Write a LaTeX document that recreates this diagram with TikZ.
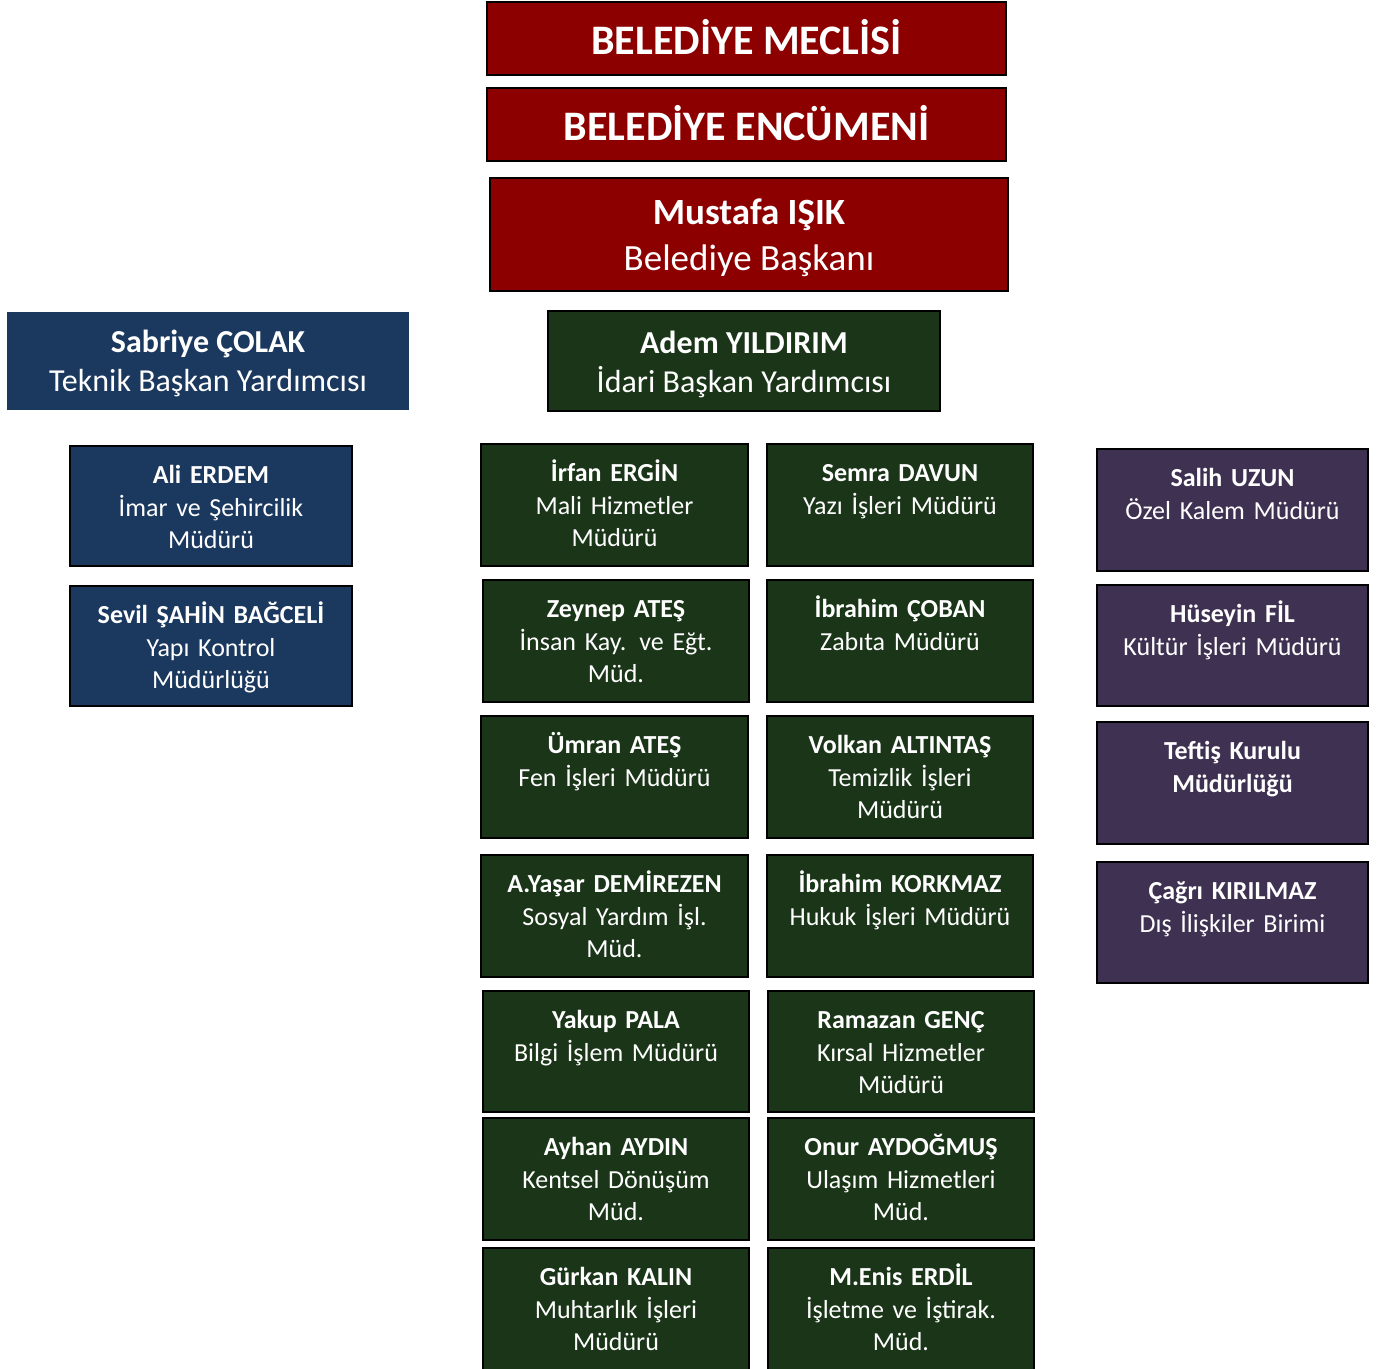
\documentclass[tikz,border=0pt]{standalone}
\usepackage{fontspec}
\setmainfont{Carlito}
\definecolor{cred}{RGB}{140,0,0}
\definecolor{cblue}{RGB}{27,56,94}
\definecolor{cgreen}{RGB}{26,53,24}
\definecolor{cpurple}{RGB}{63,49,82}
\tikzset{
  boxbase/.style={rectangle, inner sep=0pt, outer sep=0pt},
  bordered/.style={boxbase, draw=black, line width=2pt},
  redbox/.style={bordered, fill=cred},
  bluebox/.style={bordered, fill=cblue},
  blueplain/.style={boxbase, fill=cblue},
  greenbox/.style={bordered, fill=cgreen},
  purplebox/.style={bordered, fill=cpurple},
  smalltext/.style={text=white, inner sep=0pt, text width=270pt, align=center, font=\fontsize{26}{32.5}\selectfont},
  bigtext/.style={text=white, inner sep=0pt, align=center},
}
\newcommand\orgbox[7]{%
  \node[#2, anchor=north west, minimum width={#5-#3}, minimum height={#6-#4}] (#1) at (#3,#4) {};
  \node[smalltext, anchor=base] (#1-t) at ([yshift=-37.5pt]#1.north) {#7};
}
\begin{document}
\begin{tikzpicture}[x=1pt, y=-1pt]
\clip (0,0) rectangle (1378,1368);
\fill[white] (0,0) rectangle (1378,1368);
% top red boxes
\node[redbox, anchor=north west, minimum width=519, minimum height=73] (meclis) at (487,2) {};
\node[bigtext, font=\fontsize{42}{50}\selectfont\bfseries] (meclis-t) at ([yshift=1pt]meclis.center) {BELEDİYE MECLİSİ};
\node[redbox, anchor=north west, minimum width=519, minimum height=73] (encumen) at (487,88) {};
\node[bigtext, font=\fontsize{42}{50}\selectfont\bfseries] (encumen-t) at ([yshift=1pt]encumen.center) {BELEDİYE ENCÜMENİ};
\node[redbox, anchor=north west, minimum width=518, minimum height=113] (baskan) at (490,178) {};
\node[bigtext, font=\fontsize{37}{46}\selectfont] (baskan-t) at ([yshift=-3pt]baskan.center) {\textbf{Mustafa IŞIK}\\Belediye Başkanı};
% deputies
\node[blueplain, anchor=north west, minimum width=402, minimum height=98] (sabriye) at (7,312) {};
\node[bigtext, font=\fontsize{32}{39}\selectfont] (sabriye-t) at ([yshift=-2.5pt]sabriye.center) {\textbf{Sabriye ÇOLAK}\\Teknik Başkan Yardımcısı};
\node[greenbox, anchor=north west, minimum width=392, minimum height=100] (adem) at (548,311) {};
\node[bigtext, font=\fontsize{32}{39}\selectfont] (adem-t) at ([yshift=-3.5pt]adem.center) {\textbf{Adem YILDIRIM}\\İdari Başkan Yardımcısı};
% blue column
\orgbox{ali}{bluebox}{70}{446}{352}{566}{\textbf{Ali ERDEM}\\İmar ve Şehircilik\\Müdürü}
\orgbox{sevil}{bluebox}{70}{586}{352}{706}{\textbf{Sevil ŞAHİN BAĞCELİ}\\Yapı Kontrol\\Müdürlüğü}
% green grid
\orgbox{irfan}{greenbox}{481}{444}{748}{566}{\textbf{İrfan ERGİN}\\Mali Hizmetler\\Müdürü}
\orgbox{semra}{greenbox}{767}{444}{1033}{566}{\textbf{Semra DAVUN}\\Yazı İşleri Müdürü}
\orgbox{zeynep}{greenbox}{483}{580}{749}{702}{\textbf{Zeynep ATEŞ}\\İnsan Kay. ve Eğt.\\Müd.}
\orgbox{coban}{greenbox}{767}{580}{1033}{702}{\textbf{İbrahim ÇOBAN}\\Zabıta Müdürü}
\orgbox{umran}{greenbox}{481}{716}{748}{838}{\textbf{Ümran ATEŞ}\\Fen İşleri Müdürü}
\orgbox{volkan}{greenbox}{767}{716}{1033}{838}{\textbf{Volkan ALTINTAŞ}\\Temizlik İşleri\\Müdürü}
\orgbox{yasar}{greenbox}{481}{855}{748}{977}{\textbf{A.Yaşar DEMİREZEN}\\Sosyal Yardım İşl.\\Müd.}
\orgbox{korkmaz}{greenbox}{767}{855}{1033}{977}{\textbf{İbrahim KORKMAZ}\\Hukuk İşleri Müdürü}
\orgbox{yakup}{greenbox}{483}{991}{749}{1112}{\textbf{Yakup PALA}\\Bilgi İşlem Müdürü}
\orgbox{ramazan}{greenbox}{768}{991}{1034}{1112}{\textbf{Ramazan GENÇ}\\Kırsal Hizmetler\\Müdürü}
\orgbox{ayhan}{greenbox}{483}{1118}{749}{1240}{\textbf{Ayhan AYDIN}\\Kentsel Dönüşüm\\Müd.}
\orgbox{onur}{greenbox}{768}{1118}{1034}{1240}{\textbf{Onur AYDOĞMUŞ}\\Ulaşım Hizmetleri\\Müd.}
\orgbox{gurkan}{greenbox}{483}{1248}{749}{1378}{\textbf{Gürkan KALIN}\\Muhtarlık İşleri\\Müdürü}
\orgbox{enis}{greenbox}{768}{1248}{1034}{1378}{\textbf{M.Enis ERDİL}\\İşletme ve İştirak.\\Müd.}
% purple column
\orgbox{salih}{purplebox}{1097}{449}{1368}{571}{\textbf{Salih UZUN}\\Özel Kalem Müdürü}
\orgbox{huseyin}{purplebox}{1097}{585}{1368}{706}{\textbf{Hüseyin FİL}\\Kültür İşleri Müdürü}
\orgbox{teftis}{purplebox}{1097}{722}{1368}{844}{\textbf{Teftiş Kurulu}\\\textbf{Müdürlüğü}}
\orgbox{cagri}{purplebox}{1097}{862}{1368}{983}{\textbf{Çağrı KIRILMAZ}\\Dış İlişkiler Birimi}
\end{tikzpicture}
\end{document}
